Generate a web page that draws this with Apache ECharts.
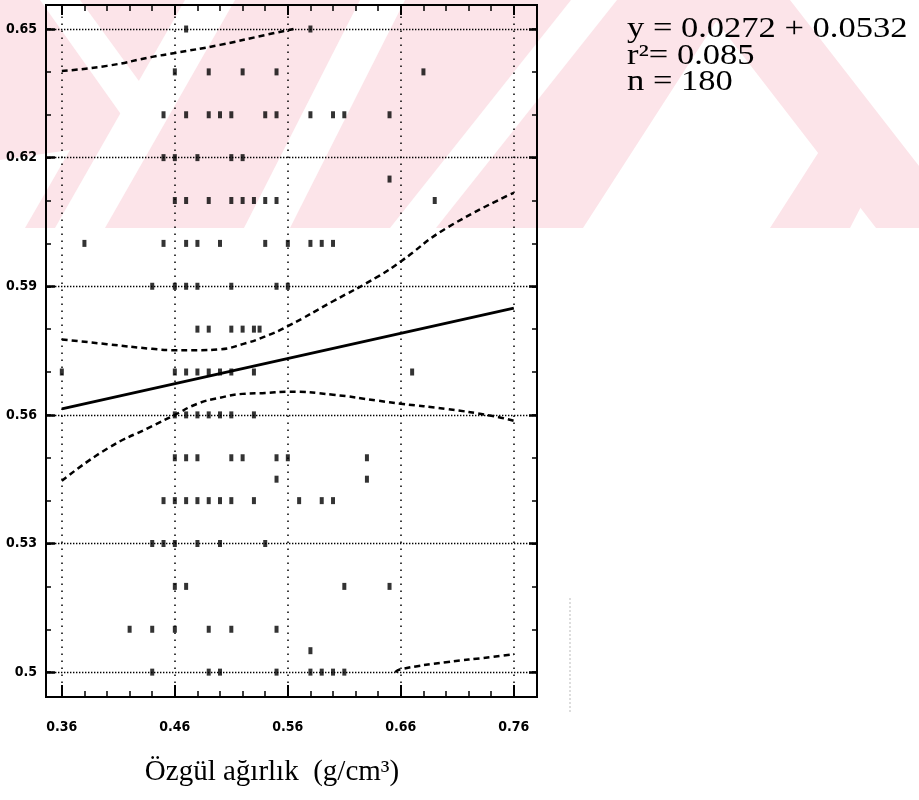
<!DOCTYPE html>
<html><head><meta charset="utf-8">
<script src="https://cdn.jsdelivr.net/npm/echarts@6/dist/echarts.min.js"></script>
<style>html,body{margin:0;padding:0;background:#fff}#c{width:919px;height:800px}</style>
</head><body><div id="c"></div>
<script>
// ---- axis ticks ----
const xMajorTicks = [0.36, 0.46, 0.56, 0.66, 0.76];
const xMinorTicks = [0.36,0.38,0.40,0.42,0.44,0.46,0.48,0.50,0.52,0.54,0.56,0.58,0.60,0.62,0.64,0.66,0.68,0.70,0.72,0.74,0.76];
const yMajorTicks = [0.50, 0.53, 0.56, 0.59, 0.62, 0.65];
const yMinorTicks = [0.50,0.51,0.52,0.53,0.54,0.55,0.56,0.57,0.58,0.59,0.60,0.61,0.62,0.63,0.64,0.65];

// ---- observations (x = specific gravity, y) ----
const scatterPoints = [
  [0.47,0.65],[0.58,0.65],
  [0.46,0.64],[0.49,0.64],[0.52,0.64],[0.55,0.64],[0.68,0.64],
  [0.45,0.63],[0.47,0.63],[0.49,0.63],[0.50,0.63],[0.51,0.63],[0.54,0.63],[0.55,0.63],[0.58,0.63],[0.60,0.63],[0.61,0.63],[0.65,0.63],
  [0.45,0.62],[0.46,0.62],[0.48,0.62],[0.51,0.62],[0.52,0.62],
  [0.65,0.615],
  [0.46,0.61],[0.47,0.61],[0.49,0.61],[0.51,0.61],[0.52,0.61],[0.53,0.61],[0.54,0.61],[0.55,0.61],[0.69,0.61],
  [0.38,0.60],[0.45,0.60],[0.47,0.60],[0.48,0.60],[0.50,0.60],[0.54,0.60],[0.56,0.60],[0.58,0.60],[0.59,0.60],[0.60,0.60],
  [0.44,0.59],[0.46,0.59],[0.47,0.59],[0.48,0.59],[0.51,0.59],[0.55,0.59],[0.56,0.59],
  [0.48,0.58],[0.49,0.58],[0.51,0.58],[0.52,0.58],[0.53,0.58],[0.535,0.58],
  [0.36,0.57],[0.46,0.57],[0.47,0.57],[0.48,0.57],[0.49,0.57],[0.50,0.57],[0.51,0.57],[0.53,0.57],[0.67,0.57],
  [0.46,0.56],[0.47,0.56],[0.48,0.56],[0.49,0.56],[0.50,0.56],[0.51,0.56],[0.53,0.56],
  [0.46,0.55],[0.47,0.55],[0.48,0.55],[0.51,0.55],[0.52,0.55],[0.55,0.55],[0.56,0.55],[0.63,0.55],
  [0.55,0.545],[0.63,0.545],
  [0.45,0.54],[0.46,0.54],[0.47,0.54],[0.48,0.54],[0.49,0.54],[0.50,0.54],[0.51,0.54],[0.53,0.54],[0.57,0.54],[0.59,0.54],[0.60,0.54],
  [0.44,0.53],[0.45,0.53],[0.46,0.53],[0.48,0.53],[0.50,0.53],[0.54,0.53],
  [0.46,0.52],[0.47,0.52],[0.61,0.52],[0.65,0.52],
  [0.42,0.51],[0.44,0.51],[0.46,0.51],[0.49,0.51],[0.51,0.51],[0.55,0.51],
  [0.58,0.505],
  [0.44,0.50],[0.49,0.50],[0.50,0.50],[0.55,0.50],[0.58,0.50],[0.59,0.50],[0.60,0.50],[0.61,0.50]
];

// ---- regression line ----
const regX = [0.36, 0.76];
const regY = [0.5614, 0.5849];

// ---- confidence band (mean) ----
const ciUpperX = [0.36,0.40,0.44,0.46,0.48,0.50,0.52,0.54,0.56,0.60,0.64,0.66,0.70,0.76];
const ciUpperY = [0.5776,0.5765,0.5754,0.5751,0.5751,0.5753,0.5765,0.5783,0.5807,0.5865,0.5923,0.5958,0.6035,0.6118];
const ciLowerX = [0.36,0.40,0.44,0.46,0.48,0.50,0.52,0.54,0.56,0.60,0.64,0.66,0.70,0.74,0.76];
const ciLowerY = [0.5446,0.5521,0.5574,0.5600,0.5626,0.5640,0.5649,0.5651,0.5654,0.5647,0.5633,0.5626,0.5614,0.5598,0.5586];

// ---- prediction band (clipped to 0.50 .. 0.65) ----
const piUpperX = [0.36,0.40,0.44,0.46,0.50,0.54,0.565];
const piUpperY = [0.6402,0.6414,0.6435,0.6444,0.6463,0.6486,0.6500];
const piLowerX = [0.655,0.66,0.70,0.74,0.76];
const piLowerY = [0.5000,0.5007,0.5023,0.5035,0.5042];

const X_MIN = 0.346, X_MAX = 0.7805;
const Y_MIN = 0.4942, Y_MAX = 0.6556;

const zip = (xs, ys) => xs.map((x, i) => [x, ys[i]]);
const lblFont = { fontFamily: "'DejaVu Sans Condensed', 'Liberation Sans', sans-serif", fontWeight: 'bold', fontSize: 14, color: '#000' };

function xAx(pos, ticks, len, w, labels) {
  return {
    type: 'value', position: pos, min: X_MIN, max: X_MAX,
    axisLine: { show: false }, splitLine: { show: false },
    axisTick: { show: true, inside: true, length: len, customValues: ticks, lineStyle: { color: '#000', width: w } },
    axisLabel: labels ? Object.assign({ show: true, customValues: xMajorTicks, margin: 23, formatter: v => v.toFixed(2) }, lblFont) : { show: false }
  };
}
function yAx(pos, ticks, len, w, labels) {
  return {
    type: 'value', position: pos, min: Y_MIN, max: Y_MAX,
    axisLine: { show: false }, splitLine: { show: false },
    axisTick: { show: true, inside: true, length: len, customValues: ticks, lineStyle: { color: '#000', width: w } },
    axisLabel: labels ? Object.assign({ show: true, customValues: yMajorTicks, margin: 9, formatter: v => String(+v.toFixed(2)) }, lblFont) : { show: false }
  };
}

// ---- decorative watermark (scan background) ----
const pink = '#fce4e9';
const wmPink = [
  [[0,0],[730,0],[583,228],[0,228]],
  [[700,0],[790,0],[919,166],[919,228],[876,228]],
  [[770,228],[850,228],[880,170],[820,150]]
];
const wmWhite = [
  [[55,228],[105,228],[235,0],[185,0]],
  [[40,0],[80,0],[160,110],[125,120]],
  [[244,228],[290,228],[405,0],[360,0]],
  [[390,228],[436,228],[617,0],[571,0]],
  [[0,160],[0,228],[25,228],[70,150]]
];

const graphic = [];
wmPink.forEach(p => graphic.push({ type: 'polygon', z: -10, silent: true, shape: { points: p }, style: { fill: pink } }));
wmWhite.forEach(p => graphic.push({ type: 'polygon', z: -9, silent: true, shape: { points: p }, style: { fill: '#fff' } }));
graphic.push({ type: 'line', silent: true, shape: { x1: 570, y1: 598, x2: 570, y2: 712 }, style: { stroke: '#bbb', lineWidth: 1, lineDash: [2, 2] } });
const eqFont = { fontFamily: 'Liberation Serif', fontSize: 29, fill: '#000' };
[['y = 0.0272 + 0.0532', 29], ['r\u00b2= 0.085', 56], ['n = 180', 82]].forEach(([t, y]) => {
  graphic.push({ type: 'text', x: 627, y: y, scaleX: 1.19, style: Object.assign({ text: t, textAlign: 'left', textVerticalAlign: 'middle' }, eqFont) });
});
graphic.push({ type: 'text', x: 272, y: 772, style: { text: '\u00d6zg\u00fcl a\u011f\u0131rl\u0131k  (g/cm\u00b3)', fontFamily: 'Liberation Serif', fontSize: 29, fill: '#000', textAlign: 'center', textVerticalAlign: 'middle' } });

const dash = { color: '#000', width: 2.5, type: [6, 4] };
const bandSeries = (data) => ({ type: 'line', data, smooth: true, showSymbol: false, silent: true, lineStyle: dash, z: 3 });

const option = {
  animation: false,
  backgroundColor: 'transparent',
  grid: { left: 46, right: 382, top: 5, bottom: 103, show: true, borderColor: '#000', borderWidth: 2, backgroundColor: 'transparent' },
  xAxis: [ xAx('bottom', xMinorTicks, 6, 1.5, true), xAx('bottom', xMajorTicks, 12, 2, false), xAx('top', xMinorTicks, 6, 1.5, false), xAx('top', xMajorTicks, 10, 2, false) ],
  yAxis: [ yAx('left', yMinorTicks, 5, 1.5, true), yAx('left', yMajorTicks, 9, 2.5, false), yAx('right', yMinorTicks, 5, 1.5, false), yAx('right', yMajorTicks, 8, 2.5, false) ],
  graphic: graphic,
  series: [
    {
      type: 'scatter', data: scatterPoints, symbol: 'rect', symbolSize: [4, 7], itemStyle: { color: '#000' }, z: 4,
      markLine: {
        silent: true, symbol: ['none', 'none'], label: { show: false }, animation: false,
        data: xMajorTicks.map(v => ({ xAxis: v, lineStyle: { color: '#000', width: 1.5, type: [1.5, 5.5] } }))
          .concat(yMajorTicks.map(v => ({ yAxis: v, lineStyle: { color: '#000', width: 1.4, type: [1.4, 1.6] } })))
      }
    },
    { type: 'line', data: zip(regX, regY), showSymbol: false, silent: true, lineStyle: { color: '#000', width: 3 }, z: 3 },
    bandSeries(zip(ciUpperX, ciUpperY)),
    bandSeries(zip(ciLowerX, ciLowerY)),
    bandSeries(zip(piUpperX, piUpperY)),
    bandSeries(zip(piLowerX, piLowerY))
  ]
};
const chart = echarts.init(document.getElementById('c'));
chart.setOption(option);
</script></body></html>
